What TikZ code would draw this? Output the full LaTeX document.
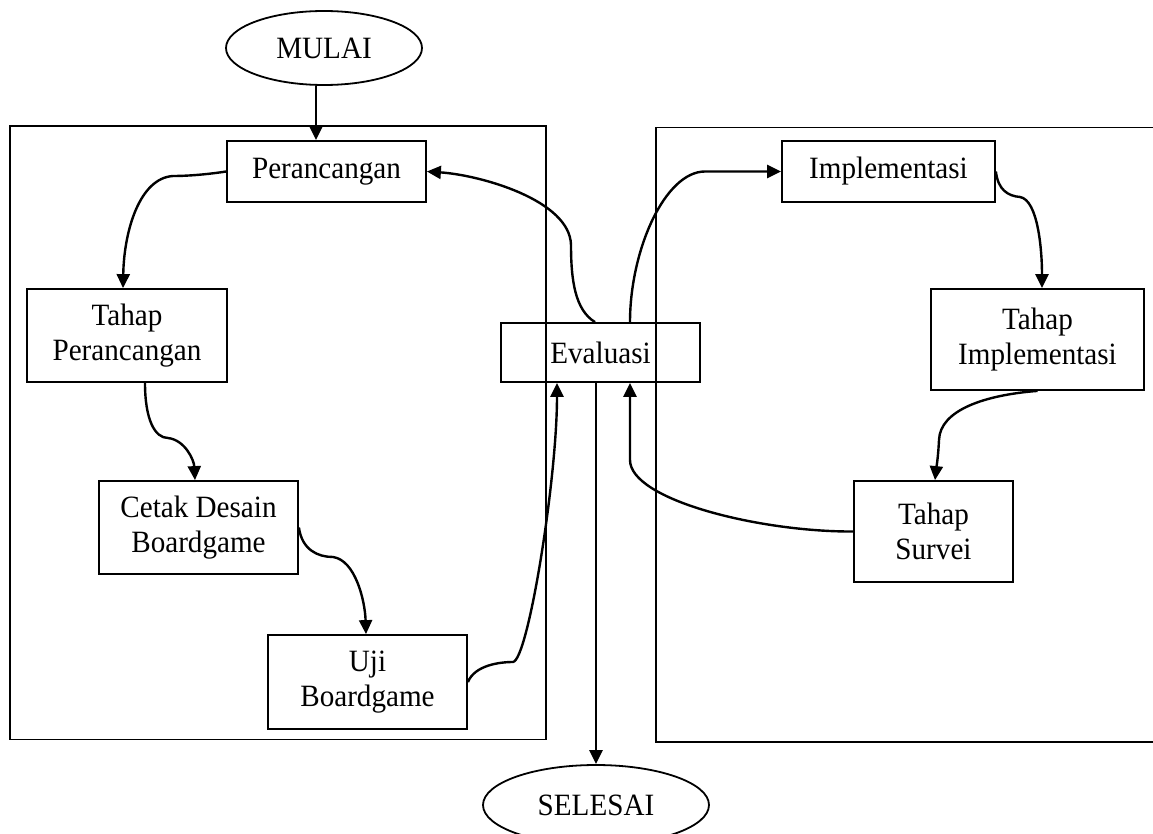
\documentclass[tikz,border=0pt]{standalone}
\usepackage{fontspec}
\setmainfont{Liberation Serif}[FakeStretch=0.94]
\usetikzlibrary{arrows.meta,shapes.geometric}
\begin{document}
\begin{tikzpicture}[x=1pt,y=-1pt,
  box/.style={draw,line width=1.8pt,rectangle,inner sep=0pt,align=center,font=\fontsize{31}{35}\selectfont},
  oval/.style={draw,line width=1.8pt,ellipse,inner sep=0pt,font=\fontsize{31}{35}\selectfont},
  frame/.style={draw,line width=1.8pt},
  arr/.style={line width=2.4pt,-{Triangle[length=14pt,width=13pt]}}]
\useasboundingbox (0,0) rectangle (1153,834);
\clip (0,0) rectangle (1153,834);
% frames
\draw[frame] (10,125.7) rectangle (545.7,739.5);
\draw[frame] (1160,127.5) -- (656,127.5) -- (656,742) -- (1160,742);
% nodes
\node[oval,minimum width=196pt,minimum height=74pt] (mulai) at (324,48) {MULAI};
\node[box,minimum width=199pt,minimum height=61pt] (perc) at (326.5,171.5) {Perancangan};
\node[box,minimum width=200pt,minimum height=93pt] (tperc) at (127,335.5) {Tahap\\Perancangan};
\node[box,minimum width=199pt,minimum height=93pt] (cetak) at (198.5,527.5) {Cetak Desain\\Boardgame};
\node[box,minimum width=199pt,minimum height=94pt] (uji) at (367.5,682) {Uji\\Boardgame};
\node[box,minimum width=199pt,minimum height=59pt] (eval) at (600.5,352.5) {Evaluasi};
\node[box,minimum width=213pt,minimum height=61pt] (impl) at (888.5,171.5) {Implementasi};
\node[box,minimum width=213pt,minimum height=101pt] (timpl) at (1037.5,339.5) {Tahap\\Implementasi};
\node[box,minimum width=159pt,minimum height=101pt] (survei) at (933.5,531.5) {Tahap\\Survei};
\node[oval,minimum width=226pt,minimum height=80pt] (selesai) at (596,805) {SELESAI};
% connectors
\draw[arr] ([xshift=-8pt]mulai.south) -- ([xshift=-8pt]mulai.south |- perc.north);
\draw[arr] (perc.west) .. controls (210,174) and (190,176) .. (173,176)
  .. controls (140,178) and (124,230) .. ([xshift=-4pt]tperc.north);
\draw[arr] ([xshift=18pt]tperc.south) .. controls (145,420) and (155,438) .. (168,438)
  .. controls (185,440) and (194,460) .. ([xshift=-3.5pt]cetak.north);
\draw[arr] (cetak.east) .. controls (302,550) and (318,557) .. (333,557)
  .. controls (355,560) and (365,600) .. ([xshift=-1.5pt]uji.north);
\draw[arr] (uji.east) .. controls (475,665) and (500,662) .. (513,662)
  .. controls (528,660) and (557,480) .. ([xshift=-43.5pt]eval.south);
\draw[arr] ([xshift=-5.5pt]eval.north) .. controls (575,310) and (571,280) .. (571,245)
  .. controls (570,200) and (480,175) .. (perc.east);
\draw[arr] ([xshift=29.5pt]eval.north) .. controls (630,250) and (665,171.5) .. (705,171.5) -- (impl.west);
\draw[arr] (impl.east) .. controls (998,190) and (1008,196) .. (1020,197)
  .. controls (1038,200) and (1042,250) .. ([xshift=4.5pt]timpl.north);
\draw[arr] (timpl.south) .. controls (985,395) and (940,410) .. (939,440)
  .. controls (938,460) and (936,470) .. ([xshift=1.5pt]survei.north);
\draw[arr] (survei.west) .. controls (760,532) and (630,500) .. (630,460) -- ([xshift=29.5pt]eval.south);
\draw[arr] (selesai.north |- eval.south) -- (selesai.north);
\end{tikzpicture}
\end{document}
